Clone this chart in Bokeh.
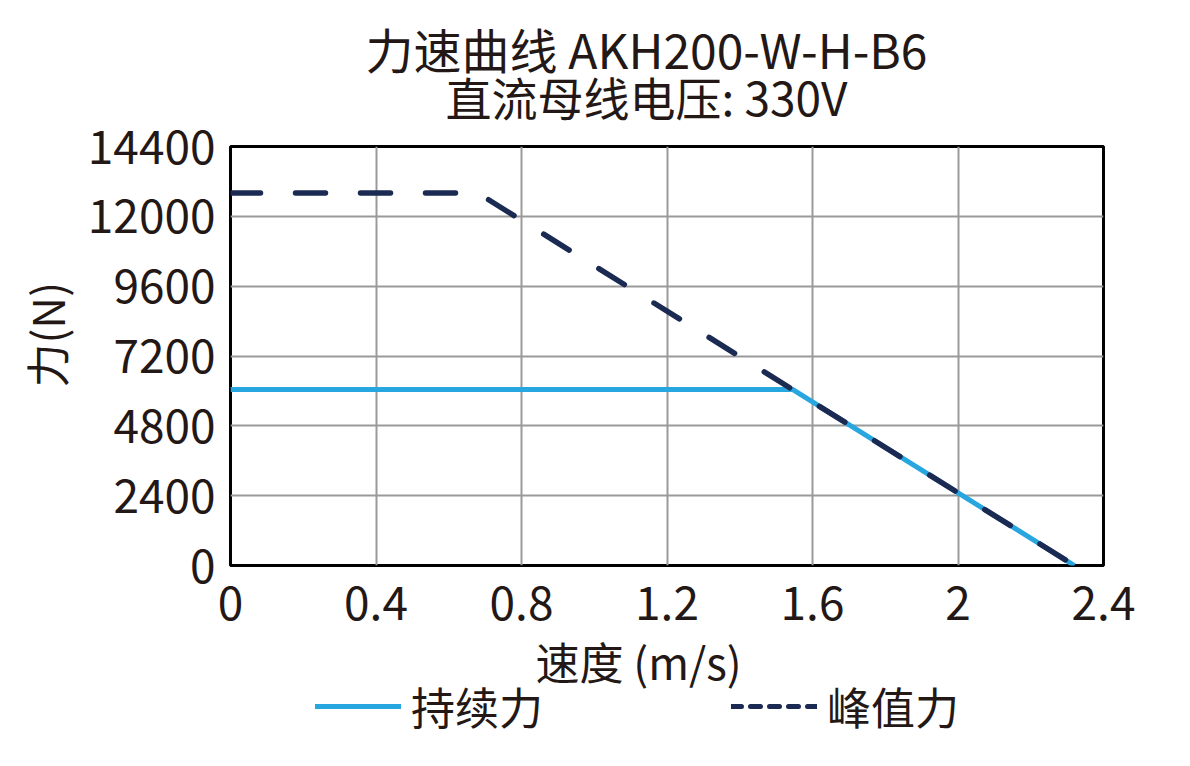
from bokeh.plotting import figure
from bokeh.layouts import column
from bokeh.models import Range1d, FixedTicker, Title, Label, Legend, LegendItem
from bokeh.embed import file_html
from bokeh.resources import INLINE

# 速度 (m/s) / 力 (N)
cont_speed = [0, 1.545, 2.32]
cont_force = [6050, 6050, 0]
peak_speed = [0, 0.68, 2.32]
peak_force = [12800, 12800, 0]

x_ticks = [0, 0.4, 0.8, 1.2, 1.6, 2.0, 2.4]
x_tick_labels = ["0", "0.4", "0.8", "1.2", "1.6", "2", "2.4"]
y_ticks = [0, 2400, 4800, 7200, 9600, 12000, 14400]

FONT = "Noto Sans CJK SC"
TXT = "#231815"
BLUE = "#28a6df"
NAVY = "#1b2a52"
W = 1190
LEFT, RIGHT = 230, 87   # frame borders, shared by all rows of the column


def strip(height):
    f = figure(width=W, height=height, output_backend="svg", toolbar_location=None,
               x_range=Range1d(0, 1), y_range=Range1d(0, 1),
               x_axis_location=None, y_axis_location=None,
               min_border=0, min_border_left=LEFT, min_border_right=RIGHT,
               outline_line_color=None)
    f.grid.visible = False
    return f


def label(f, x, y, text, size="44px"):
    # x is a page position, converted to the frame's screen units
    f.add_layout(Label(x=x - LEFT, y=y, x_units="screen", y_units="screen",
                       text=text, text_font=FONT, text_font_size=size,
                       text_color=TXT, text_align="center",
                       text_baseline="middle"))


# titles
top = strip(128)
label(top, 646, 81, "力速曲线 AKH200-W-H-B6", "48px")
label(top, 646, 33, "直流母线电压: 330V", "46px")

# chart
p = figure(width=W, height=502, output_backend="svg", toolbar_location=None,
           x_range=Range1d(0, 2.4), y_range=Range1d(0, 14400),
           min_border_left=LEFT, min_border_right=RIGHT,
           min_border_top=18, min_border_bottom=65)
p.outline_line_color = "black"
p.outline_line_width = 3

p.xaxis.ticker = FixedTicker(ticks=x_ticks)
p.xaxis.major_label_overrides = {t: s for t, s in zip(x_ticks, x_tick_labels)}
p.yaxis.ticker = FixedTicker(ticks=y_ticks)
for ax in (p.xaxis, p.yaxis):
    ax.axis_line_color = None
    ax.major_tick_line_color = None
    ax.minor_tick_line_color = None
    ax.major_label_text_font = FONT
    ax.major_label_text_font_size = "46px"
    ax.major_label_text_color = TXT
p.xaxis.major_label_standoff = 14
p.yaxis.major_label_standoff = 9

p.grid.grid_line_color = "#9a9a9a"
p.grid.grid_line_width = 2

p.line(cont_speed, cont_force, line_color=BLUE, line_width=5)
p.line(peak_speed, peak_force, line_color=NAVY, line_width=5.5,
       line_dash="30 35", line_cap="round")

p.add_layout(Title(text="力(N)", align="left", offset=178, standoff=13,
                   text_font=FONT, text_font_size="44px", text_color=TXT,
                   text_font_style="normal"), "left")

# x-axis name and legend
bottom = strip(136)
label(bottom, 638, 106, "速度 (m/s)")

lg_cont = bottom.line([float("nan")], [float("nan")], line_color=BLUE,
                      line_width=5, line_cap="round")
lg_peak = bottom.line([float("nan")], [float("nan")], line_color=NAVY,
                      line_width=5, line_dash="10 9", line_cap="round")

lg = Legend(items=[LegendItem(label="持续力", renderers=[lg_cont]),
                   LegendItem(label="峰值力", renderers=[lg_peak])],
            orientation="horizontal", location=(315 - LEFT, 28),
            padding=0, margin=0, spacing=188,
            glyph_width=86, glyph_height=44, label_standoff=10,
            label_text_font=FONT, label_text_font_size="44px",
            label_text_color=TXT, border_line_color=None,
            background_fill_alpha=0)
bottom.add_layout(lg)

open("out.html", "w").write(file_html(column(top, p, bottom), INLINE))
